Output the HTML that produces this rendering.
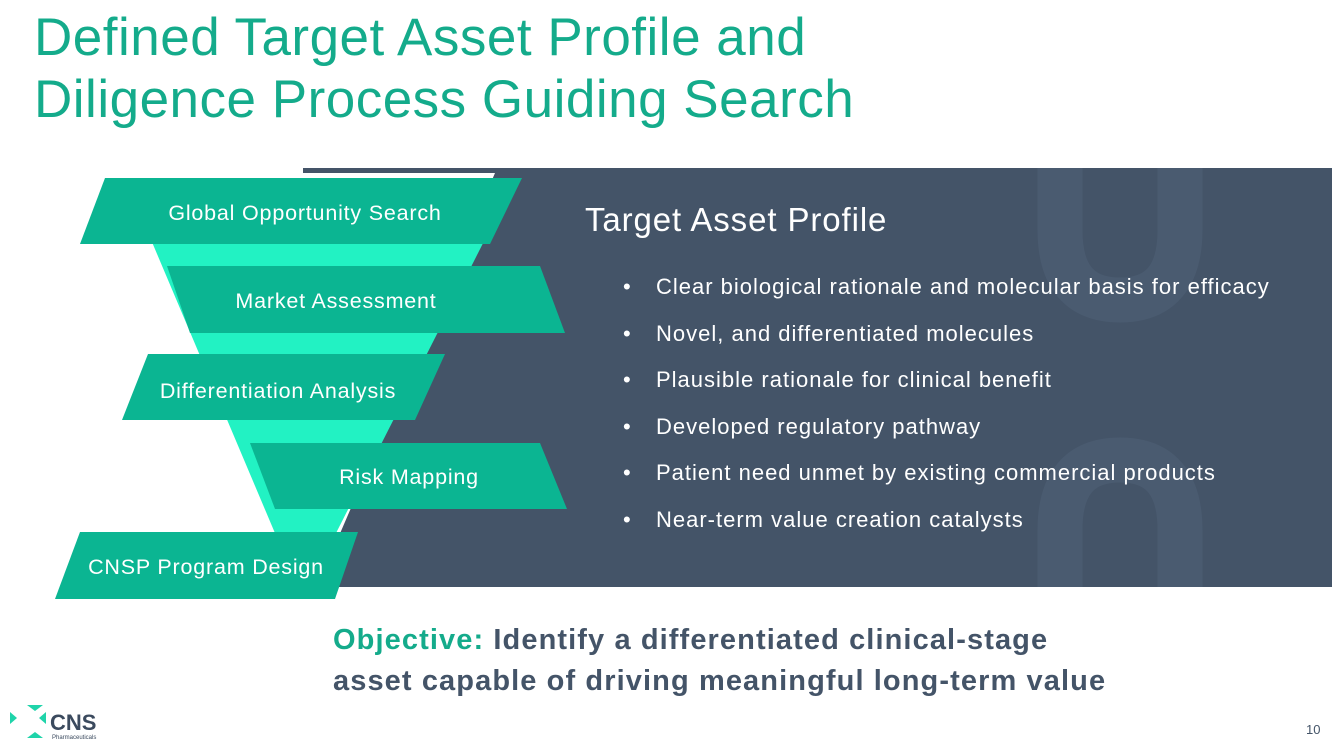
<!DOCTYPE html>
<html><head><meta charset="utf-8"><style>
body{margin:0;width:1332px;height:746px;overflow:hidden;background:#fff;font-family:"Liberation Sans",sans-serif;position:relative}
.t{position:absolute;white-space:nowrap}
</style></head><body>
<div class="t" style="left:34px;top:7px;font-size:53px;letter-spacing:0.5px;line-height:62px;color:#14ab8b">Defined Target Asset Profile and<br>Diligence Process Guiding Search</div>
<svg width="1332" height="746" style="position:absolute;left:0;top:0">
<polygon points="303,168 1332,168 1332,587 317,587 495,173 303,173" fill="#445468"/>
<g fill="none" stroke="#4a5b70" stroke-width="45">
<path d="M1060,168 V230 Q1060,300 1120,300 Q1180,300 1180,230 V168"/>
<path d="M1060,587 V530 Q1060,460 1120,460 Q1180,460 1180,530 V587"/>
</g>
<polygon points="130,190 510,190 330,545 280,545" fill="#22f2c3"/>
<g fill="#0bb592">
<polygon points="105,178 522,178 490,244 80,244"/>
<polygon points="167,266 540,266 565,333 190,333"/>
<polygon points="148,354 445,354 415,420 122,420"/>
<polygon points="250,443 540,443 567,509 275,509"/>
<polygon points="80,532 358,532 335,599 55,599"/>
</g>
<g fill="#fff" font-size="21.5" letter-spacing="0.8" font-family="Liberation Sans, sans-serif" text-anchor="middle">
<text x="305" y="220">Global Opportunity Search</text>
<text x="336" y="308">Market Assessment</text>
<text x="278" y="398">Differentiation Analysis</text>
<text x="409" y="484">Risk  Mapping</text>
<text x="206" y="574">CNSP Program Design</text>
</g>
<g fill="#1fd4aa">
<path d="M10,712 l7,6 -7,6 z M27,705 l8,6 8,-6 z M27,738 l8,-6 8,6 z M46,712 l-7,6 7,6z"/>
</g>
<text x="50" y="730" font-size="22" font-weight="bold" fill="#3b4a5e" font-family="Liberation Sans, sans-serif">CNS</text>
<text x="52" y="739" font-size="6" fill="#3b4a5e" font-family="Liberation Sans, sans-serif">Pharmaceuticals</text>
</svg>
<div class="t" style="left:585px;top:201px;font-size:33px;letter-spacing:0.9px;color:#fff">Target Asset Profile</div>
<div class="t" style="left:623px;top:264px;font-size:22px;letter-spacing:1px;line-height:46.5px;color:#fff">
<div>•<span style="position:absolute;left:33px">Clear biological rationale and molecular basis for efficacy</span></div>
<div>•<span style="position:absolute;left:33px">Novel, and differentiated molecules</span></div>
<div>•<span style="position:absolute;left:33px">Plausible rationale for clinical benefit</span></div>
<div>•<span style="position:absolute;left:33px">Developed regulatory pathway</span></div>
<div>•<span style="position:absolute;left:33px">Patient need unmet by existing commercial products</span></div>
<div>•<span style="position:absolute;left:33px">Near-term value creation catalysts</span></div></div>
<div class="t" style="left:333px;top:620px;font-size:29px;letter-spacing:1.1px;line-height:41px;font-weight:bold;color:#445468"><span style="color:#14ab8b">Objective:</span> Identify a differentiated clinical-stage<br>asset capable of driving meaningful long-term value</div>
<div class="t" style="left:1306px;top:722px;font-size:13px;color:#445468">10</div>
</body></html>
